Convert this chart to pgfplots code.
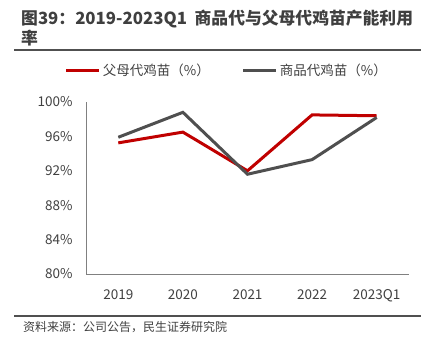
\documentclass[border=0pt]{standalone}
\usepackage{fontspec}
\setmainfont{Noto Sans CJK SC}
\usepackage{pgfplots}
\pgfplotsset{compat=1.18}
\definecolor{redline}{HTML}{C00000}
\definecolor{grayline}{HTML}{4F4F4F}
\definecolor{axisgray}{HTML}{808080}
\definecolor{txtgray}{HTML}{404040}
\definecolor{titlegray}{HTML}{3F3F3F}
\definecolor{rulegray}{RGB}{80,80,80}
\begin{document}
\begin{tikzpicture}
\path (0pt,0pt) rectangle (431pt,353pt);
% title
\node[anchor=north west, inner sep=0pt, align=left, text=titlegray, font=\fontsize{16.8}{20}\selectfont\bfseries] at (21pt,343pt) {图39：2019-2023Q1\ \ 商品代与父母代鸡苗产能利用\\率};
\node[anchor=west, inner sep=0pt, text=txtgray, font=\fontsize{12}{14}\selectfont] at (23pt,26pt) {资料来源：公司公告，民生证券研究院};
\begin{axis}[
  at={(86pt,79pt)}, anchor=south west,
  scale only axis, width=323pt, height=172pt,
  xmin=-0.5, xmax=4.5, ymin=80, ymax=100,
  xtick={0,1,2,3,4},
  xticklabels={2019,2020,2021,2022,2023Q1},
  ytick={80,84,88,92,96,100},
  yticklabel={\pgfmathprintnumber{\tick}\%},
  /pgf/number format/assume math mode=true,
  axis x line*=bottom, axis y line*=left,
  axis line style={color=axisgray, line width=0.8pt, -},
  major tick length=0pt,
  tick label style={text=txtgray, font=\fontsize{13.5}{15}\selectfont},
  xticklabel style={yshift=-12pt},
  yticklabel style={xshift=-10pt},
  legend style={at={(-0.075,1.185)}, anchor=west, draw=none, fill=none,
    legend columns=2, font=\fontsize{13.5}{15}\selectfont, text=txtgray,
    /tikz/every even column/.append style={column sep=30pt}},
  legend cell align=left,
  legend image code/.code={\draw[#1, line width=3pt] (0pt,0pt) -- (33pt,0pt);},
]
\addplot[color=redline, line width=3pt, line join=miter] coordinates {
(0,95.25) (1,96.5) (2,92.0) (3,98.5) (4,98.4)};
\addlegendentry{父母代鸡苗（\%）}
\addplot[color=grayline, line width=3pt, line join=miter] coordinates {
(0,95.9) (1,98.8) (2,91.6) (3,93.3) (4,98.2)};
\addlegendentry{商品代鸡苗（\%）}
\end{axis}
\draw[draw=rulegray, line width=1.8pt] (14pt,303pt) -- (421pt,303pt);
\draw[draw=rulegray, line width=1.4pt] (14pt,37pt) -- (421pt,37pt);
\end{tikzpicture}
\end{document}
